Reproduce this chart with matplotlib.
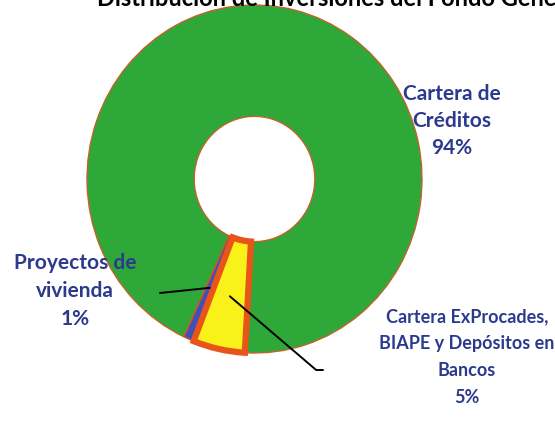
import numpy as np
import matplotlib.pyplot as plt

# data
labels = ["Cartera de\nCréditos\n94%",
          "Proyectos de\nvivienda\n1%",
          "Cartera ExProcades,\nBIAPE y Depósitos en\nBancos\n5%"]
shares = [94, 1, 5]
colors = ["#2ea838", "#4150b8", "#f8f21a"]
edges = ["#c0642e", "#d8501c", "#e8541a"]
edge_widths = [1.0, 1.0, 4.5]

title = "Distribución de Inversiones del Fondo General"
text_color = "#2b3a8e"

W, H = 555, 426
fig = plt.figure(figsize=(W / 100, H / 100), dpi=100)
fig.patch.set_facecolor("white")

# pie box in pixels (slightly taller than wide, as in the scan)
cx, cy, rx, ry = 254.5, 179.0, 167.5, 174.0
ax = fig.add_axes([(cx - rx) / W, (H - cy - ry) / H, 2 * rx / W, 2 * ry / H])

wedges, _ = ax.pie(shares, colors=colors, startangle=266.7, counterclock=True,
                   radius=1.0, wedgeprops=dict(width=0.64))
for w, ec, lw in zip(wedges, edges, edge_widths):
    w.set_edgecolor(ec)
    w.set_linewidth(lw)
    w.set_clip_on(False)
ax.set_aspect("auto")
ax.set_xlim(-1, 1)
ax.set_ylim(-1, 1)
ax.axis("off")


def px(x, y):
    # pixel position -> pie data coords
    return ((x - cx) / rx, (cy - y) / ry)


def mid_point(w, r):
    th = np.deg2rad((w.theta1 + w.theta2) / 2)
    return (r * np.cos(th), r * np.sin(th))


font = dict(family=["Lato", "DejaVu Sans"], fontweight="bold",
            color=text_color, ha="center", va="center")

# labels
ax.text(*px(452, 121), labels[0], fontsize=15, linespacing=1.45, **font)
ax.text(*px(75, 291), labels[1], fontsize=15, linespacing=1.5, **font)
ax.text(*px(467, 357), labels[2], fontsize=13, linespacing=1.7, **font)

# leader lines
line = dict(arrowstyle="-", color="black", lw=1.4, shrinkA=0, shrinkB=0)
ax.annotate("", xy=mid_point(wedges[1], 0.68), xytext=px(160, 293),
            arrowprops=line)
ax.annotate("", xy=mid_point(wedges[2], 0.69), xytext=px(323, 370),
            arrowprops=dict(line, connectionstyle="angle,angleA=0,angleB=-40.5,rad=0"))

# title, cut off at the top edge like the scan
fig.text(97 / W, 1 - 6 / H, title, ha="left", va="baseline",
         fontsize=17, fontweight="bold", family=["Lato", "DejaVu Sans"], color="black")

fig.savefig("out.png", dpi=100, facecolor="white")
